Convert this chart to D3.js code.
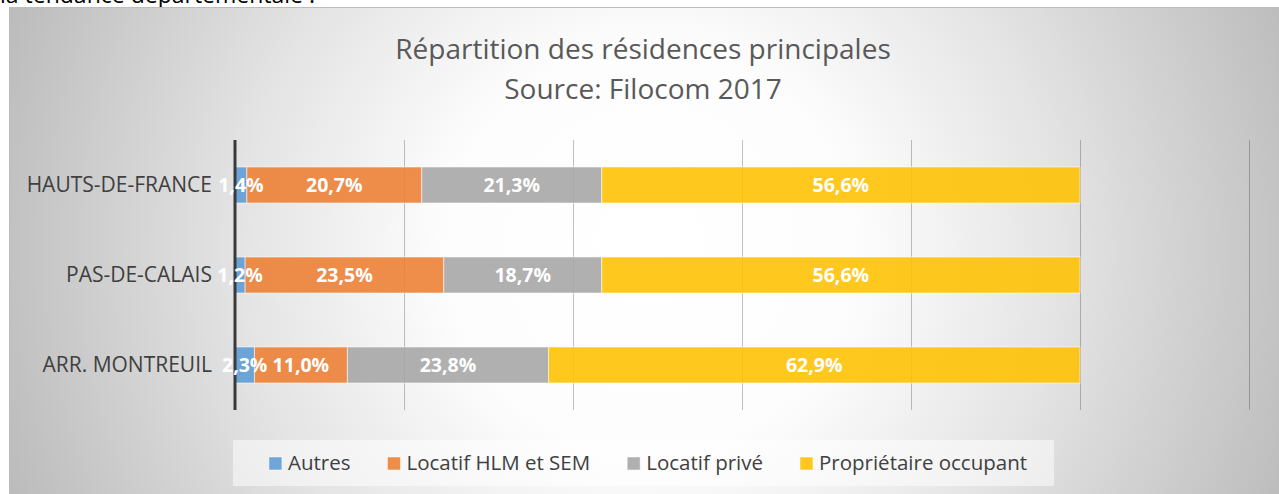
<!DOCTYPE html>
<html lang="fr">
<head>
<meta charset="utf-8">
<script src="https://cdn.jsdelivr.net/npm/d3@7"></script>
<style>
  html, body { margin: 0; padding: 0; background: #ffffff; }
  svg { display: block; font-family: "Open Sans", "Noto Sans", sans-serif; }
</style>
</head>
<body>
<svg id="chart" width="1279" height="494"></svg>
<script>
// Répartition des résidences principales (Filocom 2017), en %
const categories = ["HAUTS-DE-FRANCE", "PAS-DE-CALAIS", "ARR. MONTREUIL"];
const seriesNames = ["Autres", "Locatif HLM et SEM", "Locatif privé", "Propriétaire occupant"];
const autres = [1.4, 1.2, 2.3];
const locatifHLM = [20.7, 23.5, 11.0];
const locatifPrive = [21.3, 18.7, 23.8];
const proprietaire = [56.6, 56.6, 62.9];
const xTicks = [0, 20, 40, 60, 80, 100, 120];
const colors = ["#5b9bd5", "#ed7d31", "#a5a5a5", "#ffc000"];

const values = [autres, locatifHLM, locatifPrive, proprietaire];
const rows = categories.map((c, i) => {
  const r = { cat: c };
  seriesNames.forEach((s, j) => { r[s] = values[j][i]; });
  return r;
});
const stacked = d3.stack().keys(seriesNames)(rows);

const W = 1279, H = 494;
const svg = d3.select("#chart");

// surrounding document text, partly hidden above the chart frame
svg.append("text")
  .attr("x", 0).attr("y", 3)
  .attr("font-size", 23).attr("fill", "#000")
  .text("la tendance départementale :");

// chart frame with radial shading
const defs = svg.append("defs");
const grad = defs.append("radialGradient")
  .attr("id", "bg").attr("gradientUnits", "userSpaceOnUse")
  .attr("cx", 650).attr("cy", 250).attr("r", 680);
[[0, "#ffffff"], [0.3, "#fdfdfd"], [0.6, "#e4e4e4"], [0.9, "#c6c6c6"], [1, "#bcbcbc"]]
  .forEach(([o, c]) => grad.append("stop").attr("offset", o).attr("stop-color", c));

svg.append("rect")
  .attr("x", 9.5).attr("y", 7.5).attr("width", W - 9).attr("height", H - 7)
  .attr("fill", "url(#bg)").attr("stroke", "#bcbcbc").attr("stroke-width", 1);

// title
const title = svg.append("text")
  .attr("text-anchor", "middle").attr("fill", "#595959").attr("font-size", 28);
title.append("tspan").attr("x", 643).attr("y", 59).text("Répartition des résidences principales");
title.append("tspan").attr("x", 643).attr("y", 99).text("Source: Filocom 2017");

// scales
const x = d3.scaleLinear().domain([0, 120]).range([235, 1249]);
const y = d3.scaleBand().domain(categories).range([140, 410])
  .paddingInner(0.6).paddingOuter(0.3);

// vertical gridlines
svg.append("g")
  .selectAll("line").data(xTicks.filter(t => t > 0)).join("line")
  .attr("x1", d => Math.round(x(d)) + 0.5).attr("x2", d => Math.round(x(d)) + 0.5)
  .attr("y1", 140).attr("y2", 410)
  .attr("stroke", "#000").attr("stroke-opacity", 0.24).attr("stroke-width", 1);

// stacked bars
const layers = svg.append("g").selectAll("g").data(stacked).join("g")
  .attr("fill", (d, i) => colors[i]);
layers.selectAll("rect").data(d => d).join("rect")
  .attr("x", d => x(d[0]))
  .attr("width", d => x(d[1]) - x(d[0]))
  .attr("y", d => y(d.data.cat))
  .attr("height", y.bandwidth())
  .attr("fill-opacity", 0.88)
  .attr("stroke", "#ffffff").attr("stroke-opacity", 0.55).attr("stroke-width", 1);

// category axis
const yAxis = svg.append("g").attr("transform", `translate(${x(0)},0)`)
  .call(d3.axisLeft(y).tickSize(0).tickPadding(23));
yAxis.select(".domain").attr("stroke", "#3a3a3a").attr("stroke-width", 3)
  .attr("d", "M0,140V410");
yAxis.selectAll("text")
  .attr("font-family", "\"Open Sans\", sans-serif")
  .attr("font-size", 21).attr("fill", "#404040");

// value labels, drawn above every bar segment
const fmt = v => d3.format(".1f")(v).replace(".", ",") + "%";
const labels = svg.append("g");
stacked.forEach(layer => {
  labels.selectAll(null).data(layer).join("text")
    .attr("x", d => (x(d[0]) + x(d[1])) / 2)
    .attr("y", d => y(d.data.cat) + y.bandwidth() / 2)
    .attr("dy", "0.36em")
    .attr("text-anchor", "middle")
    .attr("fill", "#ffffff").attr("font-weight", "bold").attr("font-size", 19.5)
    .text(d => fmt(d[1] - d[0]));
});

// legend
const legend = svg.append("g");
const lgBox = legend.append("rect")
  .attr("y", 440).attr("height", 46)
  .attr("fill", "#ffffff").attr("fill-opacity", 0.5);
let cx = 0;
const items = legend.append("g");
seriesNames.forEach((s, i) => {
  const g = items.append("g").attr("transform", `translate(${cx},0)`);
  g.append("rect").attr("x", 0).attr("y", 457).attr("width", 13).attr("height", 13)
    .attr("fill", colors[i]).attr("fill-opacity", 0.88)
    .attr("stroke", "#ffffff").attr("stroke-opacity", 0.5);
  const t = g.append("text").attr("x", 19).attr("y", 470)
    .attr("font-size", 20.5).attr("fill", "#404040").text(s);
  cx += 19 + t.node().getComputedTextLength() + 37;
});
const contentW = cx - 37;
const startX = 648 - contentW / 2;
items.attr("transform", `translate(${startX},0)`);
lgBox.attr("x", startX - 36).attr("width", contentW + 63);
</script>
</body>
</html>
